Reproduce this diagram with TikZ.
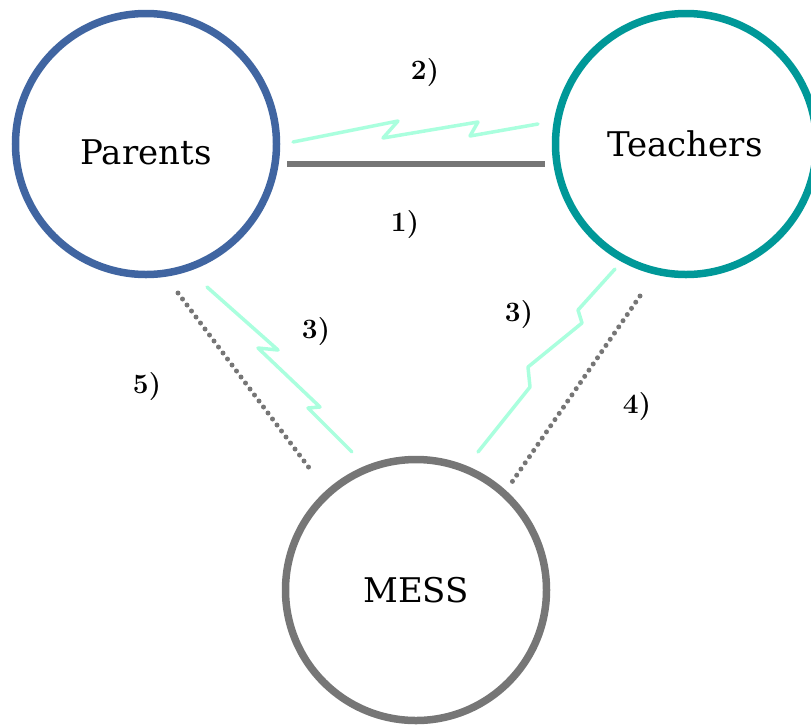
\documentclass[tikz,border=0pt]{standalone}
\usepackage{fontspec}
\newfontfamily\nodefont{DejaVu Serif}
\definecolor{parblue}{RGB}{64,101,161}
\definecolor{teateal}{RGB}{0,152,152}
\definecolor{messgray}{RGB}{118,118,118}
\definecolor{zigcol}{RGB}{170,255,222}
\tikzset{
  actor/.style={circle, line width=7.5pt, minimum size=261pt, inner sep=0pt},
  actortext/.style={font=\nodefont\fontsize{34}{40}\selectfont, inner sep=0pt},
  lbl/.style={font=\bfseries\fontsize{28}{34}\selectfont, inner sep=0pt},
  zig/.style={zigcol, line width=3.5pt, line join=round, line cap=round},
  dots/.style={messgray, line width=5pt, line cap=round, dash pattern=on 0pt off 7.5pt},
  solidlink/.style={messgray, line width=5.5pt}
}
\begin{document}
\begin{tikzpicture}[x=1pt,y=-1pt]
\useasboundingbox (0,0) rectangle (811,724);
\node[actor, draw=parblue] (P) at (146,144) {};
\node[actor, draw=teateal] (T) at (686,144) {};
\node[actor, draw=messgray] (M) at (416,590) {};
\node[actortext] (Pt) at (146,152) {Parents};
\node[actortext] (Tt) at (685,144) {Teachers};
\node[actortext] (Mt) at (416,590) {MESS};
% solid line 1)
\coordinate (s1) at (287,164);
\coordinate (s2) at (545,164);
\draw[solidlink] (s1) -- (s2);
% zigzag 2)
\coordinate (z0) at (293,142);
\coordinate (z5) at (538,124);
\draw[zig] (z0) -- (398,121) -- (383,138) -- (478,122) -- (470,136) -- (z5);
% left zigzag 3)
\coordinate (l0) at (207,287);
\coordinate (l5) at (352,452);
\draw[zig] (l0) -- (278,350) -- (258,348) -- (320,407) -- (308,408) -- (l5);
% right zigzag 3)
\coordinate (r0) at (615,269);
\coordinate (r5) at (478,452);
\draw[zig] (r0) -- (578,310) -- (582,323) -- (528,367) -- (530,387) -- (r5);
% dotted 5)
\coordinate (d1) at (178,293);
\coordinate (d2) at (313,473);
\draw[dots] (d1) -- (d2);
% dotted 4)
\coordinate (e1) at (640,296);
\coordinate (e2) at (512,482);
\draw[dots] (e1) -- (e2);
% labels
\node[lbl] (L2) at (425,73) {2)};
\node[lbl] (L1) at (405,225) {1)};
\node[lbl] (L3a) at (316,332) {3)};
\node[lbl] (L5) at (147,387) {5)};
\node[lbl] (L3b) at (519,315) {3)};
\node[lbl] (L4) at (637,407) {4)};
\end{tikzpicture}
\end{document}
